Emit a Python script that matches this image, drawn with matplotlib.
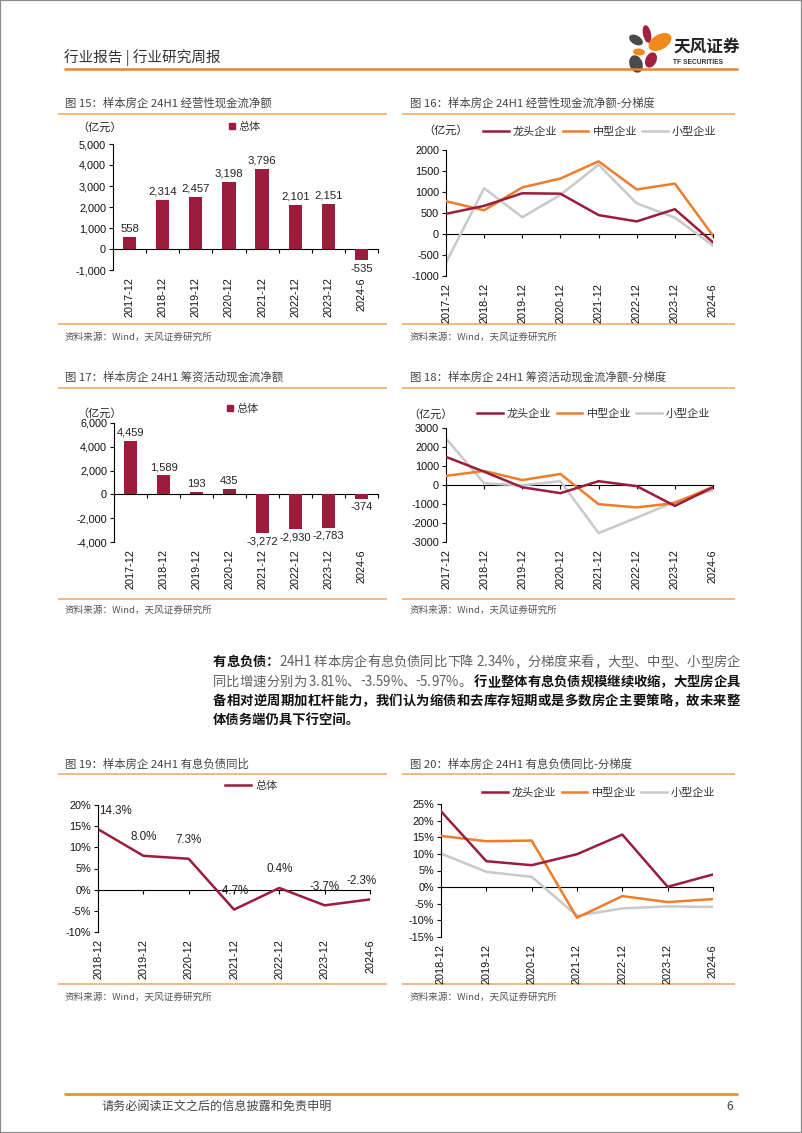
import numpy as np
import matplotlib
matplotlib.use('Agg')
import matplotlib.pyplot as plt
from matplotlib.lines import Line2D
from matplotlib.patches import Ellipse, Rectangle
from matplotlib.ticker import FuncFormatter
from matplotlib.font_manager import FontProperties

plt.rcParams['font.family'] = ['Noto Sans CJK SC', 'DejaVu Sans']
plt.rcParams['axes.unicode_minus'] = False

# ---------------- data ----------------
cats_a = ['2017-12', '2018-12', '2019-12', '2020-12', '2021-12', '2022-12', '2023-12', '2024-6']
total_op = [558, 2314, 2457, 3198, 3796, 2101, 2151, -535]
lead_op = [480, 670, 970, 960, 450, 300, 590, -200]
mid_op = [780, 565, 1110, 1320, 1730, 1060, 1200, -40]
small_op = [-680, 1090, 400, 930, 1650, 730, 390, -280]

total_fin = [4459, 1589, 193, 435, -3272, -2930, -2783, -374]
lead_fin = [1480, 700, -120, -430, 200, -60, -1100, -120]
mid_fin = [480, 740, 260, 580, -1010, -1180, -950, -90]
small_fin = [2450, 90, -20, 200, -2530, -1720, -880, -270]

cats_b = ['2018-12', '2019-12', '2020-12', '2021-12', '2022-12', '2023-12', '2024-6']
total_debt = [14.3, 8.0, 7.3, -4.7, 0.4, -3.7, -2.3]
lead_debt = [22.8, 7.8, 6.6, 9.9, 15.8, 0.1, 3.81]
mid_debt = [15.4, 13.8, 14.0, -9.2, -2.7, -4.5, -3.59]
small_debt = [10.1, 4.6, 3.1, -8.6, -6.4, -5.8, -5.97]

series_names = ['龙头企业', '中型企业', '小型企业']
total_name = '总体'

# ---------------- style ----------------
RED = '#9C1C3C'
ORANGE = '#EE7D2B'
GRAY = '#C9C9C9'
SECT = '#F3A35E'
TICKFONT = ['Liberation Sans', 'DejaVu Sans']
LBLFONT = ['Liberation Sans', 'DejaVu Sans']

W, H = 802, 1133
fig = plt.figure(figsize=(W / 100, H / 100), dpi=100)

# overlay in pixel coordinates for page decoration
ov = fig.add_axes([0, 0, 1, 1])
ov.set_xlim(0, W)
ov.set_ylim(H, 0)
ov.axis('off')


def fx(x):
    return x / W


def fy(y):
    return 1 - y / H


def hline(x0, x1, y, color, lw):
    ov.plot([x0, x1], [y, y], color=color, lw=lw, solid_capstyle='butt')


def make_ax(x0, y0, x1, y1):
    return fig.add_axes([fx(x0), fy(y1), (x1 - x0) / W, (y1 - y0) / H])


def setup(ax, cats, ylim, ystep, fmt, centered):
    n = len(cats)
    ax.set_ylim(*ylim)
    ax.set_yticks(np.arange(ylim[0], ylim[1] + ystep / 2, ystep))
    ax.yaxis.set_major_formatter(FuncFormatter(fmt))
    for s in ('top', 'right', 'bottom'):
        ax.spines[s].set_visible(False)
    ax.spines['left'].set_linewidth(0.8)
    ax.tick_params(axis='y', direction='out', length=3, width=0.8, pad=2,
                   labelsize=7.8, colors='#111')
    for lab in ax.get_yticklabels():
        lab.set_family(TICKFONT)
    if centered:
        ax.set_xlim(-0.5, n - 0.5)
        marks = np.arange(n + 1) - 0.5
    else:
        ax.set_xlim(0, n - 1)
        marks = np.arange(n)
    ax.set_xticks(np.arange(n))
    ax.set_xticklabels(cats, rotation=90, fontsize=7.8, family=TICKFONT, color='#111')
    ax.tick_params(axis='x', length=0, pad=5)
    ax.patch.set_alpha(0)
    frac = (0 - ylim[0]) / (ylim[1] - ylim[0])
    sec = ax.secondary_xaxis(frac)
    sec.set_alignment('bottom')
    sec.set_xticks(marks)
    sec.set_xticklabels([])
    sec.tick_params(axis='x', direction='out', length=3, width=0.8)
    sec.spines['bottom'].set_linewidth(0.8)
    return ax


def comma(v, p):
    return f'{int(round(v)):,}'


def plain(v, p):
    return f'{int(round(v))}'


def pct(v, p):
    return f'{int(round(v))}%'


def section(x0, x1, title, ytitle, yline, ysrcline, ysrc, tx):
    ov.text(tx, ytitle, title, fontsize=8.2, color='#444', va='center', ha='left')
    hline(x0, x1, yline, SECT, 1.1)
    hline(x0, x1, ysrcline, SECT, 1.1)
    ov.text(tx, ysrc, '资料来源：Wind，天风证券研究所', fontsize=6.9, color='#555',
            va='center', ha='left')


def bar_legend(ax, x, y):
    h = [Line2D([], [], marker='s', color=RED, ls='none', markersize=4.5)]
    ax.legend(h, [total_name], loc='center left', bbox_to_anchor=(fx(x), fy(y)),
              bbox_transform=fig.transFigure, frameon=False, fontsize=8,
              handletextpad=0.1, borderpad=0, handlelength=0.8, borderaxespad=0,
              labelcolor='#333')


def line_legend(ax, x, y, names, colors):
    h = [Line2D([], [], color=c, lw=1.8) for c in colors]
    ax.legend(h, names, loc='center left', bbox_to_anchor=(fx(x), fy(y)),
              bbox_transform=fig.transFigure, frameon=False, fontsize=8, ncol=len(names),
              handletextpad=0.4, borderpad=0, handlelength=2.3, columnspacing=0.45,
              borderaxespad=0, labelcolor='#333')


# ---------------- page frame / header ----------------
fig.add_artist(Rectangle((0, 0), 1, 1, transform=fig.transFigure, fill=False,
                         edgecolor='#8a8a8a', lw=1.6))
ov.text(64, 58, '行业报告 | 行业研究周报', fontsize=10.5, color='#333', va='center', ha='left')
hline(64, 738, 69, '#E8872A', 1.8)

# logo
for (cx, cy, w, h, a, c) in [
    (647, 34, 8, 18, -12, '#A3213F'),
    (660, 42, 25, 15, -30, '#F08A1C'),
    (636, 40, 15, 9, 30, '#4A4A4A'),
    (639, 52, 12, 7, 5, '#F08A1C'),
    (636, 64, 13, 18, -20, '#4A4A4A'),
    (651, 60, 11, 16, 25, '#A3213F'),
]:
    ov.add_patch(Ellipse((cx, cy), w, h, angle=a, color=c, lw=0))
ov.text(673, 47, '天风证券', fontsize=12, fontweight='bold', color='#222', va='center', ha='left')
ov.text(673, 63, 'TF SECURITIES', fontsize=4.8, fontweight='bold', color='#333',
        va='center', ha='left', family=['Liberation Sans', 'DejaVu Sans'])

# ---------------- chart 15 ----------------
section(58, 387, '图 15：样本房企 24H1 经营性现金流净额', 103, 114, 324, 337, 65)
ax15 = make_ax(113, 144, 378, 270)
setup(ax15, cats_a, (-1000, 5000), 1000, comma, True)
b15 = ax15.bar(range(len(cats_a)), total_op, width=0.4, color=RED, zorder=2)
ax15.bar_label(b15, labels=[f'{v:,}' for v in total_op], padding=2.5, fontsize=8.2,
               family=LBLFONT, color='#222')
bar_legend(ax15, 228, 127)
ov.text(77, 127, '（亿元）', fontsize=8, color='#222', va='center', ha='left')

# ---------------- chart 16 ----------------
section(402, 735, '图 16：样本房企 24H1 经营性现金流净额-分梯度', 103, 114, 324, 337, 410)
ax16 = make_ax(446, 150, 713, 276)
setup(ax16, cats_a, (-1000, 2000), 500, plain, False)
ax16.plot(range(len(cats_a)), small_op, color=GRAY, lw=1.8, zorder=2)
ax16.plot(range(len(cats_a)), mid_op, color=ORANGE, lw=1.8, zorder=3)
ax16.plot(range(len(cats_a)), lead_op, color=RED, lw=1.8, zorder=4)
line_legend(ax16, 483, 132, series_names, [RED, ORANGE, GRAY])
ov.text(423, 130, '（亿元）', fontsize=8, color='#222', va='center', ha='left')

# ---------------- chart 17 ----------------
section(58, 387, '图 17：样本房企 24H1 筹资活动现金流净额', 377, 388, 599, 610, 65)
ax17 = make_ax(114, 423, 378, 542)
setup(ax17, cats_a, (-4000, 6000), 2000, comma, True)
b17 = ax17.bar(range(len(cats_a)), total_fin, width=0.4, color=RED, zorder=2)
ax17.bar_label(b17, labels=[f'{v:,}' for v in total_fin], padding=2.5, fontsize=8.0,
               family=LBLFONT, color='#222')
bar_legend(ax17, 226, 409)
ov.text(77, 413, '（亿元）', fontsize=8, color='#222', va='center', ha='left')

# ---------------- chart 18 ----------------
section(402, 735, '图 18：样本房企 24H1 筹资活动现金流净额-分梯度', 377, 388, 599, 610, 410)
ax18 = make_ax(446, 428, 713, 542)
setup(ax18, cats_a, (-3000, 3000), 1000, plain, False)
ax18.plot(range(len(cats_a)), small_fin, color=GRAY, lw=1.8, zorder=2)
ax18.plot(range(len(cats_a)), mid_fin, color=ORANGE, lw=1.8, zorder=3)
ax18.plot(range(len(cats_a)), lead_fin, color=RED, lw=1.8, zorder=4)
line_legend(ax18, 477, 414, series_names, [RED, ORANGE, GRAY])
ov.text(408, 414, '（亿元）', fontsize=8, color='#222', va='center', ha='left')

# ---------------- paragraph ----------------
fig.canvas.draw()
renderer = fig.canvas.get_renderer()
fp_b = FontProperties(family=['Noto Sans CJK SC', 'DejaVu Sans'], size=9.6, weight='bold')
fp_r = FontProperties(family=['Noto Sans CJK SC', 'DejaVu Sans'], size=9.6, weight='normal')


def twidth(s, fp):
    if not s:
        return 0.0
    full = renderer.get_text_width_height_descent('|' + s + '|', fp, ismath=False)[0]
    bars = renderer.get_text_width_height_descent('||', fp, ismath=False)[0]
    return full - bars


def para_line(segments, x0, x1, y, justify=True):
    items = []
    seg_start = 0.0
    for txt, bold in segments:
        fp = fp_b if bold else fp_r
        col = '#111' if bold else '#5f5f5f'
        for i, ch in enumerate(txt):
            items.append((ch, fp, col, seg_start + twidth(txt[:i], fp)))
        seg_start += twidth(txt, fp)
    natural = seg_start
    n = len(items)
    extra = (x1 - x0 - natural) / (n - 1) if justify and n > 1 else 0.0
    for k, (ch, fp, col, off) in enumerate(items):
        if ch == ' ':
            continue
        ov.text(x0 + off + k * extra, y, ch, fontproperties=fp, color=col,
                va='center', ha='left')


para_line([('有息负债：', True), ('24H1 样本房企有息负债同比下降 2.34%，分梯度来看，大型、中型、小型房企', False)],
          213, 740, 662)
para_line([('同比增速分别为 3.81%、-3.59%、-5.97%。 ', False), ('行业整体有息负债规模继续收缩，大型房企具', True)],
          213, 740, 682)
para_line([('备相对逆周期加杠杆能力，我们认为缩债和去库存短期或是多数房企主要策略，故未来整', True)],
          213, 740, 701)
ov.text(213, 720, '体债务端仍具下行空间。', fontproperties=fp_b, color='#111', va='center', ha='left')

# ---------------- chart 19 ----------------
section(58, 387, '图 19：样本房企 24H1 有息负债同比', 764, 774, 984, 997, 65)
ax19 = make_ax(98, 805, 370, 932)
setup(ax19, cats_b, (-10, 20), 5, pct, False)
ax19.plot(range(len(cats_b)), total_debt, color=RED, lw=1.8, zorder=2)
for i, v in enumerate(total_debt):
    if i == 0:
        dx, ha = 1, 'left'
    elif i == len(total_debt) - 1:
        dx, ha = 5, 'right'
    else:
        dx, ha = 0, 'center'
    ax19.annotate(f'{v:.1f}%', (i, v), xytext=(dx, 9), textcoords='offset points',
                  ha=ha, va='bottom', fontsize=8.4, family=LBLFONT, color='#222',
                  annotation_clip=False, zorder=1)
line_legend(ax19, 225, 786, [total_name], [RED])

# ---------------- chart 20 ----------------
section(402, 735, '图 20：样本房企 24H1 有息负债同比-分梯度', 764, 774, 984, 997, 410)
ax20 = make_ax(441, 804, 713, 937)
setup(ax20, cats_b, (-15, 25), 5, pct, False)
ax20.plot(range(len(cats_b)), small_debt, color=GRAY, lw=1.8, zorder=2)
ax20.plot(range(len(cats_b)), mid_debt, color=ORANGE, lw=1.8, zorder=3)
ax20.plot(range(len(cats_b)), lead_debt, color=RED, lw=1.8, zorder=4)
line_legend(ax20, 482, 793, series_names, [RED, ORANGE, GRAY])

# ---------------- footer ----------------
hline(64, 738, 1094, '#E0982B', 2.0)
ov.text(101, 1106, '请务必阅读正文之后的信息披露和免责申明', fontsize=8.7, color='#444',
        va='center', ha='left')
ov.text(733, 1106, '6', fontsize=8.7, color='#444', va='center', ha='right')

fig.savefig('out.png', dpi=100)
